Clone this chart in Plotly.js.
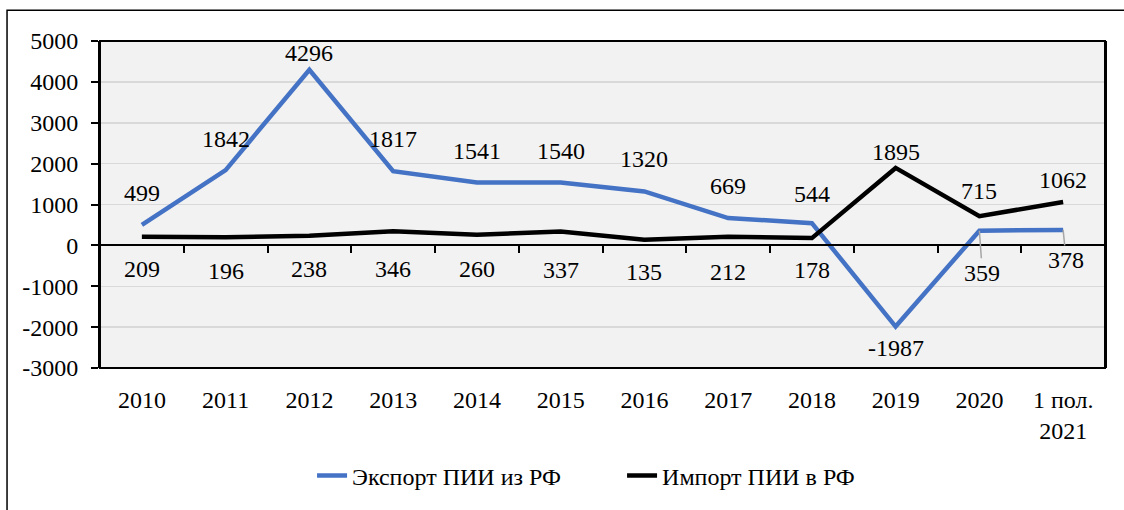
<!DOCTYPE html>
<html>
<head>
<meta charset="utf-8">
<script src="https://cdn.plot.ly/plotly-3.0.1.min.js"></script>
<style>html,body{margin:0;padding:0;background:#fff;}#chart{width:1124px;height:510px;}</style>
</head>
<body>
<div id="chart"></div>
<script>
const categories = ["2010","2011","2012","2013","2014","2015","2016","2017","2018","2019","2020","1 пол.<br>2021"];
const exportFDI = [499, 1842, 4296, 1817, 1541, 1540, 1320, 669, 544, -1987, 359, 378];
const importFDI = [209, 196, 238, 346, 260, 337, 135, 212, 178, 1895, 715, 1062];
const exportName = "Экспорт ПИИ из РФ";
const importName = "Импорт ПИИ в РФ";
const yTickValues = [-3000, -2000, -1000, 0, 1000, 2000, 3000, 4000, 5000];
const yTickLabels = yTickValues.map(v => String(v)); // plain hyphen minus as in the original

// label pixel offsets (style)
const exportLabelShift = [32, 31, 17, 32, 31, 31, 32, 32, 29, -21, -42, -30];
const exportLeader = [false,false,false,false,false,false,false,false,false,false,true,true];
const importLabelShift = [-32, -34, -33, -38, -34, -38, -32, -35, -32, 16, 25, 22];

const FONT = "Liberation Serif";
const FS = 24;
const yMin = -3000, yMax = 5000;

const traces = [
  {x: categories, y: exportFDI, name: exportName, type: "scatter", mode: "lines",
   line: {color: "#4472c4", width: 4.5}},
  {x: categories, y: importFDI, name: importName, type: "scatter", mode: "lines",
   line: {color: "#000000", width: 4.5}}
];

const annotations = [];
exportFDI.forEach((v, i) => {
  const base = {x: i, y: v, xref: "x", yref: "y", text: String(v),
    font: {family: FONT, size: FS, color: "#000"}};
  if (exportLeader[i]) {
    annotations.push(Object.assign(base, {showarrow: true, arrowhead: 0, arrowwidth: 1.5,
      arrowcolor: "#a6a6a6", ax: 3, ay: -exportLabelShift[i], standoff: 0}));
  } else {
    annotations.push(Object.assign(base, {showarrow: false, yshift: exportLabelShift[i]}));
  }
});
importFDI.forEach((v, i) => {
  annotations.push({x: i, y: v, xref: "x", yref: "y", text: String(v),
    showarrow: false, yshift: importLabelShift[i],
    font: {family: FONT, size: FS, color: "#000"}});
});

const layout = {
  width: 1124, height: 510,
  margin: {l: 100, r: 19, t: 41, b: 139},
  paper_bgcolor: "#ffffff",
  plot_bgcolor: "#f2f2f2",
  font: {family: FONT, size: FS, color: "#000"},
  showlegend: true,
  legend: {orientation: "h", x: 0.211, xanchor: "left", y: -0.33, yanchor: "middle",
           entrywidth: 265, entrywidthmode: "pixels",
           font: {family: FONT, size: FS, color: "#000"}, bgcolor: "rgba(0,0,0,0)"},
  xaxis: {type: "category", categoryorder: "array", categoryarray: categories,
          range: [-0.5, categories.length - 0.5], autorange: false,
          anchor: "free", position: (0 - yMin) / (yMax - yMin),
          showgrid: false, zeroline: false,
          ticks: "outside", tickson: "boundaries", ticklen: 7, tickwidth: 2, tickcolor: "#000",
          showline: true, linecolor: "#000", linewidth: 2,
          ticklabelstandoff: 133,
          tickfont: {family: FONT, size: FS, color: "#000"}},
  yaxis: {range: [yMin, yMax], tickmode: "array", tickvals: yTickValues, ticktext: yTickLabels,
          showgrid: true, gridcolor: "#d9d9d9", gridwidth: 1.5,
          zeroline: false, ticks: "outside", ticklen: 7, tickwidth: 2, tickcolor: "#000",
          showline: true, mirror: true, linecolor: "#000", linewidth: 2,
          ticklabelstandoff: 8,
          tickfont: {family: FONT, size: FS, color: "#000"}},
  annotations: annotations,
  shapes: [
    {type: "rect", xref: "paper", yref: "paper", x0: 0, x1: 1, y0: 0, y1: 1,
     line: {color: "#000", width: 2}, fillcolor: "rgba(0,0,0,0)", layer: "above"},
    {type: "rect", xref: "paper", yref: "paper", x0: -0.0925, x1: 1.2, y0: -0.6, y1: 1.094,
     line: {color: "#000", width: 1.5}, fillcolor: "rgba(0,0,0,0)", layer: "below"}]
};

Plotly.newPlot("chart", traces, layout, {displayModeBar: false, staticPlot: true});
</script>
</body>
</html>
